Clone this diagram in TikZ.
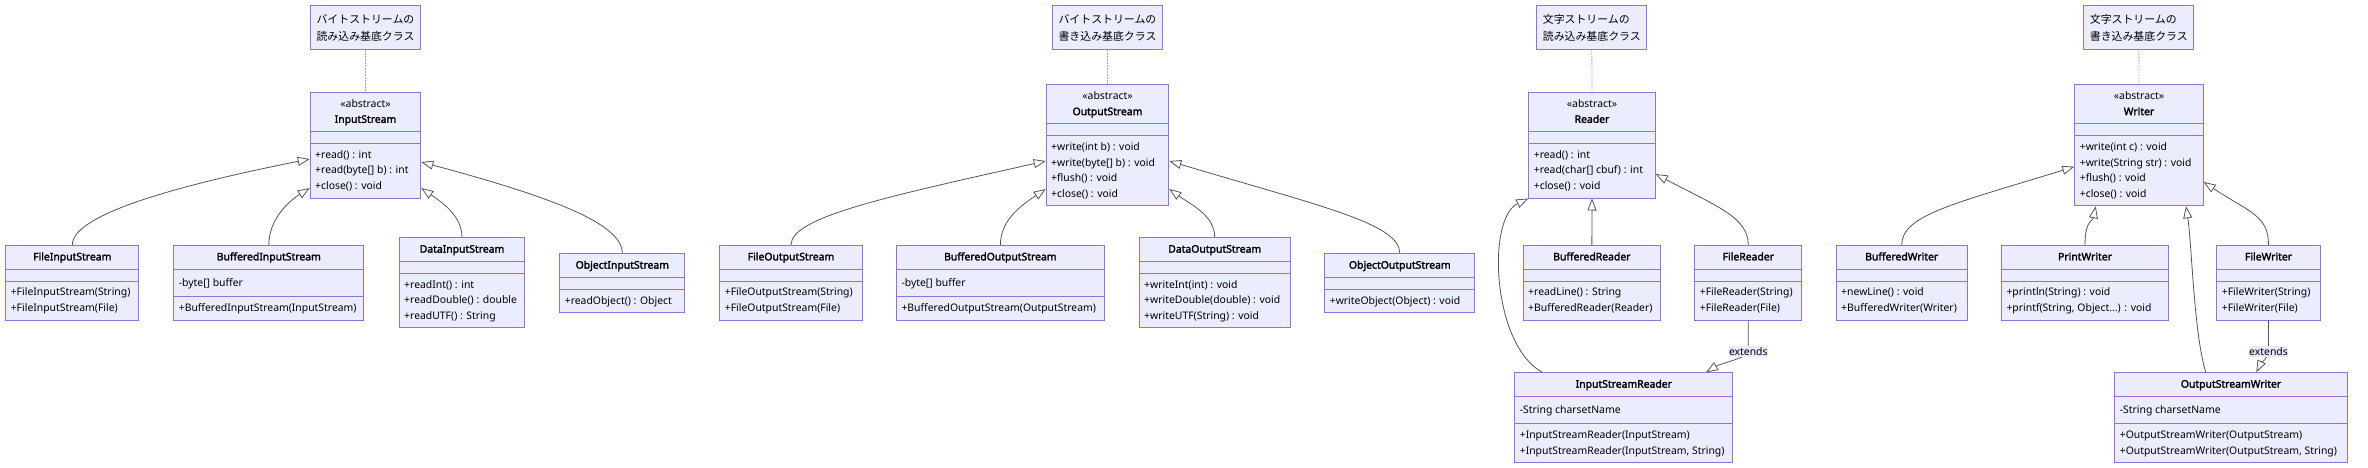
\documentclass[tikz,border=0pt]{standalone}
\usepackage{fontspec}
\setmainfont{Noto Sans}[BoldFont={Noto Sans}, BoldFeatures={FakeBold=2.2}]
\newfontfamily\jpfont{Noto Sans CJK JP}
\usepackage{tikz}
\usetikzlibrary{shapes.multipart}
\usetikzlibrary{arrows.meta}
\usetikzlibrary{calc}
\definecolor{classfill}{HTML}{ECECFF}
\definecolor{classedge}{HTML}{9370DB}
\definecolor{linkcolor}{HTML}{555555}
\definecolor{labelfill}{HTML}{E8E8FF}
\newcommand{\abshead}[1]{\begin{tabular}{@{}c@{}}«abstract»\\\textbf{#1}\end{tabular}}
\newcommand{\classhead}[1]{\begin{tabular}{@{}c@{}}\textbf{#1}\end{tabular}}
\newcommand{\members}[1]{\begin{tabular}{@{}l@{}}#1\end{tabular}}
\newcommand{\field}[1]{\begin{tabular}{@{}l@{}}\rule[-6.4pt]{0pt}{19.5pt}#1\end{tabular}}
\newcommand{\nofield}{\rule{0pt}{4pt}}
\tikzstyle{uml_class}=[rectangle split, rectangle split parts=3, rectangle split part align={center,left,left},
    anchor=north west, draw=classedge, fill=classfill, line width=1pt, inner xsep=5pt, inner ysep=3.5pt,
    font={\fontsize{10.4}{15.5}\selectfont}]
\tikzstyle{uml_note}=[rectangle, anchor=north west, draw=classedge, fill=classfill,
    line width=1pt, minimum width=110.6pt, minimum height=44pt, inner sep=0pt,
    align=left, font={\jpfont\fontsize{10.9}{17}\selectfont}]
\tikzstyle{note_link}=[draw=black!35, line width=0.8pt, dash pattern=on 1.5pt off 1.5pt]
\tikzstyle{inherit_link}=[draw=linkcolor, line width=0.8pt, -{Triangle[open, length=12pt, width=9pt]}]
\tikzstyle{ext_label}=[fill=labelfill, inner xsep=0.5pt, inner ysep=1pt, font={\fontsize{10.4}{12}\selectfont}]

\begin{document}
\begin{tikzpicture}[x=1pt, y=-1pt]
              \useasboundingbox (0,0) rectangle (2368,468);
              \node[uml_note] (note_in) at (309.7,5.3) {バイトストリームの\\読み込み基底クラス};
              \node[uml_class, minimum width=110.6pt] (in0) at (309.7,92) {\abshead{InputStream}\nodepart{two}\nofield\nodepart{three}\members{+read() : int\\+read(byte[] b) : int\\+close() : void}};
              \draw[note_link] (note_in.south) -- (in0.north);
              \node[uml_class, minimum width=133pt] (in1) at (5.3,245) {\classhead{FileInputStream}\nodepart{two}\nofield\nodepart{three}\members{+FileInputStream(String)\\+FileInputStream(File)}};
              \node[uml_class, minimum width=190pt] (in2) at (173.3,245) {\classhead{BufferedInputStream}\nodepart{two}\field{-byte[] buffer}\nodepart{three}\members{+BufferedInputStream(InputStream)}};
              \node[uml_class, minimum width=125.6pt] (in3) at (398.7,237.3) {\classhead{DataInputStream}\nodepart{two}\nofield\nodepart{three}\members{+readInt() : int\\+readDouble() : double\\+readUTF() : String}};
              \node[uml_class, minimum width=125pt] (in4) at (559.3,253.3) {\classhead{ObjectInputStream}\nodepart{two}\nofield\nodepart{three}\members{+readObject() : Object}};
              \draw[inherit_link] (in1.north) .. controls +(0,-28) and +(-150,30) .. ($(in0.north west)+(0,67)$);
              \draw[inherit_link] (in2.north) .. controls +(0,-25) and +(-22,14) .. ($(in0.north west)+(0,96)$);
              \draw[inherit_link] (in3.north) .. controls +(0,-22) and +(20,14) .. ($(in0.north east)+(0,96)$);
              \draw[inherit_link] (in4.north) .. controls +(0,-30) and +(130,35) .. ($(in0.north east)+(0,70)$);

              \node[uml_note] (note_out) at (1051.7,5.3) {バイトストリームの\\書き込み基底クラス};
              \node[uml_class, minimum width=122.6pt] (out0) at (1045.7,84.3) {\abshead{OutputStream}\nodepart{two}\nofield\nodepart{three}\members{+write(int b) : void\\+write(byte[] b) : void\\+flush() : void\\+close() : void}};
              \draw[note_link] (note_out.south) -- (out0.north);
              \node[uml_class, minimum width=142.4pt] (out1) at (719.3,245) {\classhead{FileOutputStream}\nodepart{two}\nofield\nodepart{three}\members{+FileOutputStream(String)\\+FileOutputStream(File)}};
              \node[uml_class, minimum width=207.7pt] (out2) at (896,245) {\classhead{BufferedOutputStream}\nodepart{two}\field{-byte[] buffer}\nodepart{three}\members{+BufferedOutputStream(OutputStream)}};
              \node[uml_class, minimum width=151pt] (out3) at (1138.7,237.3) {\classhead{DataOutputStream}\nodepart{two}\nofield\nodepart{three}\members{+writeInt(int) : void\\+writeDouble(double) : void\\+writeUTF(String) : void}};
              \node[uml_class, minimum width=150pt] (out4) at (1324.3,253.3) {\classhead{ObjectOutputStream}\nodepart{two}\nofield\nodepart{three}\members{+writeObject(Object) : void}};
              \draw[inherit_link] (out1.north) .. controls +(0,-28) and +(-160,36) .. ($(out0.north west)+(0,76.7)$);
              \draw[inherit_link] (out2.north) .. controls +(0,-25) and +(-24,16) .. ($(out0.north west)+(0,104.7)$);
              \draw[inherit_link] (out3.north) .. controls +(0,-22) and +(22,16) .. ($(out0.north east)+(0,104.7)$);
              \draw[inherit_link] (out4.north) .. controls +(0,-30) and +(150,45) .. ($(out0.north east)+(0,76.7)$);

              \node[uml_note, minimum width=110pt] (note_rd) at (1536.3,5.3) {文字ストリームの\\読み込み基底クラス};
              \node[uml_class, minimum width=126.4pt] (rd0) at (1528.3,92) {\abshead{Reader}\nodepart{two}\nofield\nodepart{three}\members{+read() : int\\+read(char[] cbuf) : int\\+close() : void}};
              \draw[note_link] (note_rd.south) -- (rd0.north);
              \node[uml_class, minimum width=137.3pt] (rd1) at (1522.7,245) {\classhead{BufferedReader}\nodepart{two}\nofield\nodepart{three}\members{+readLine() : String\\+BufferedReader(Reader)}};
              \node[uml_class, minimum width=107pt] (rd2) at (1694.3,245) {\classhead{FileReader}\nodepart{two}\nofield\nodepart{three}\members{+FileReader(String)\\+FileReader(File)}};
              \node[uml_class, minimum width=218pt] (rd3) at (1514.3,372.3) {\classhead{InputStreamReader}\nodepart{two}\field{-String charsetName}\nodepart{three}\members{+InputStreamReader(InputStream)\\+InputStreamReader(InputStream, String)}};
              \draw[inherit_link] (rd1.north) -- (rd0.south);
              \draw[inherit_link] (rd2.north) .. controls +(0,-28) and +(60,32) .. ($(rd0.north east)+(0,82)$);
              \draw[inherit_link] ($(rd3.north west)+(28,0)$) .. controls +(-50,-27) and +(-42,20) .. (rd0.south west);
              \draw[inherit_link] (rd2.south) -- ++(0,31) node[ext_label]{extends} .. controls +(0,6) and +(15,-9) .. ($(rd3.north east)+(-27.3,0)$);

              \node[uml_note, minimum width=110pt] (note_wr) at (2083.3,5.3) {文字ストリームの\\書き込み基底クラス};
              \node[uml_class, minimum width=128.4pt] (wr0) at (2074.3,84.3) {\abshead{Writer}\nodepart{two}\nofield\nodepart{three}\members{+write(int c) : void\\+write(String str) : void\\+flush() : void\\+close() : void}};
              \draw[note_link] (note_wr.south) -- (wr0.north);
              \node[uml_class, minimum width=131pt] (wr1) at (1835.7,245) {\classhead{BufferedWriter}\nodepart{two}\nofield\nodepart{three}\members{+newLine() : void\\+BufferedWriter(Writer)}};
              \node[uml_class, minimum width=167pt] (wr2) at (2001,245) {\classhead{PrintWriter}\nodepart{two}\nofield\nodepart{three}\members{+println(String) : void\\+printf(String, Object...) : void}};
              \node[uml_class, minimum width=103.4pt] (wr3) at (2216.3,245) {\classhead{FileWriter}\nodepart{two}\nofield\nodepart{three}\members{+FileWriter(String)\\+FileWriter(File)}};
              \node[uml_class, minimum width=232.4pt] (wr4) at (2114.3,372.3) {\classhead{OutputStreamWriter}\nodepart{two}\field{-String charsetName}\nodepart{three}\members{+OutputStreamWriter(OutputStream)\\+OutputStreamWriter(OutputStream, String)}};
              \draw[inherit_link] (wr1.north) .. controls +(0,-30) and +(-120,37) .. ($(wr0.north west)+(0,82.4)$);
              \draw[inherit_link] (wr2.north) .. controls +(0,-25) and +(-3,15) .. ($(wr0.south west)+(21.4,0)$);
              \draw[inherit_link] (wr3.north) .. controls +(0,-30) and +(45,30) .. ($(wr0.north east)+(0,97.7)$);
              \draw[inherit_link] ($(wr4.north west)+(91.4,0)$) .. controls +(-12,-40) and +(6,40) .. ($(wr0.south east)+(-17.7,0)$);
              \draw[inherit_link] (wr3.south) -- ++(0,31) node[ext_label]{extends} .. controls +(0,6) and +(4,-8) .. ($(wr4.north east)+(-91.4,0)$);
            \end{tikzpicture}
\end{document}
